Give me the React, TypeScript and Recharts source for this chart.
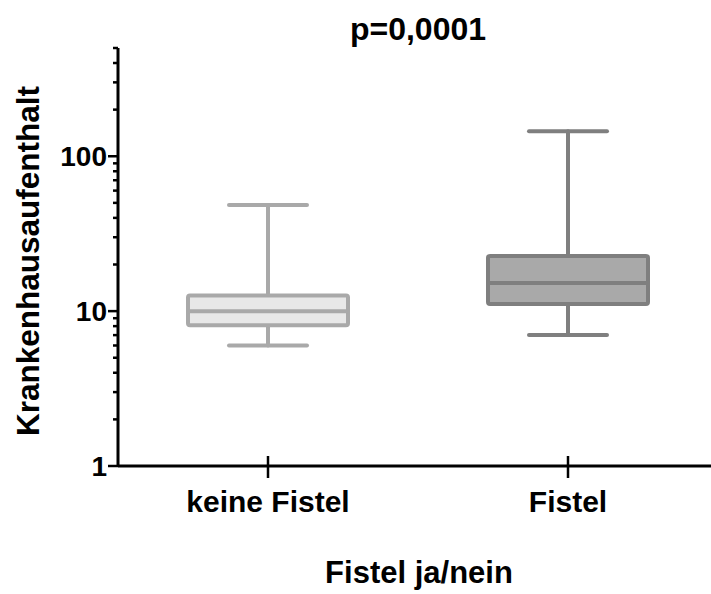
import React from "react";
import { ComposedChart, Bar, XAxis, YAxis } from "recharts";

const categories = ["keine Fistel", "Fistel"];
const minValues = [6.0, 7.0];
const q1Values = [8.1, 11.1];
const medianValues = [10.0, 15.2];
const q3Values = [12.6, 22.7];
const maxValues = [48.5, 145];
const strokeColors = ["#a9a9a9", "#7f7f7f"];
const fillColors = ["#e8e8e8", "#a9a9a9"];

const yTicks = [1, 2, 3, 4, 5, 6, 7, 8, 9, 10, 20, 30, 40, 50, 60, 70, 80, 90, 100, 200, 300, 400, 500];
const majorTicks = [1, 10, 100];

const data = categories.map((name, i) => ({
  name,
  whisker: [minValues[i], maxValues[i]],
  box: [q1Values[i], q3Values[i]],
  med: [q1Values[i], medianValues[i]],
  idx: i,
}));

const FONT = "'Liberation Sans', Arial, sans-serif";

const WhiskerShape = (props: any) => {
  const { x, y, width, height, payload } = props;
  const cx = x + width / 2;
  const c = strokeColors[payload.idx];
  const cap = 78;
  return (
    <g stroke={c} strokeWidth={4} strokeLinecap="round">
      <line x1={cx} x2={cx} y1={y} y2={y + height} />
      <line x1={cx - cap / 2} x2={cx + cap / 2} y1={y} y2={y} />
      <line x1={cx - cap / 2} x2={cx + cap / 2} y1={y + height} y2={y + height} />
    </g>
  );
};

const BoxShape = (props: any) => {
  const { x, y, width, height, payload } = props;
  return (
    <rect
      x={x}
      y={y}
      width={width}
      height={height}
      rx={2}
      fill={fillColors[payload.idx]}
      stroke={strokeColors[payload.idx]}
      strokeWidth={4}
    />
  );
};

const MedianShape = (props: any) => {
  const { x, y, width, payload } = props;
  return (
    <line x1={x} x2={x + width} y1={y} y2={y} stroke={strokeColors[payload.idx]} strokeWidth={4} />
  );
};

const YTick = (props: any) => {
  const { x, y, payload } = props;
  const major = majorTicks.includes(payload.value);
  return (
    <g>
      <line x1={x - (major ? 10 : 5)} x2={x} y1={y} y2={y} stroke="#000" strokeWidth={2.5} />
      {major && (
        <text
          x={x - 11}
          y={y}
          dy={10}
          textAnchor="end"
          fontFamily={FONT}
          fontWeight="bold"
          fontSize={28}
          fill="#000"
        >
          {payload.value}
        </text>
      )}
    </g>
  );
};

const XTick = (props: any) => {
  const { x, y, payload } = props;
  return (
    <g>
      <line x1={x} x2={x} y1={y - 10} y2={y + 12} stroke="#000" strokeWidth={2.5} />
      <text
        x={x}
        y={y + 46}
        textAnchor="middle"
        fontFamily={FONT}
        fontWeight="bold"
        fontSize={30}
        fill="#000"
      >
        {payload.value}
      </text>
    </g>
  );
};

export default function App() {
  return (
    <div style={{ position: "absolute", left: 0, top: 0, width: 711, height: 594, overflow: "hidden", background: "#fff" }}>
      <ComposedChart width={718} height={594} data={data} margin={{ top: 48, right: 0, bottom: 0, left: 0 }}>
        <XAxis
          dataKey="name"
          height={128}
          tickSize={0}
          tickMargin={0}
          tick={<XTick />}
          axisLine={{ stroke: "#000", strokeWidth: 3 }}
          tickLine={false}
          interval={0}
        />
        <XAxis xAxisId="box" dataKey="name" hide />
        <XAxis xAxisId="med" dataKey="name" hide />
        <YAxis
          scale="log"
          domain={[1, 500]}
          allowDataOverflow
          ticks={yTicks}
          interval={0}
          width={118}
          tickSize={0}
          tickMargin={0}
          tick={<YTick />}
          tickLine={false}
          axisLine={{ stroke: "#000", strokeWidth: 3 }}
        />
        <Bar dataKey="whisker" barSize={160} shape={<WhiskerShape />} isAnimationActive={false} />
        <Bar xAxisId="box" dataKey="box" barSize={160} shape={<BoxShape />} isAnimationActive={false} />
        <Bar xAxisId="med" dataKey="med" barSize={160} shape={<MedianShape />} isAnimationActive={false} />
        <text x={418} y={40} textAnchor="middle" fontFamily={FONT} fontWeight="bold" fontSize={32} fill="#000">
          p=0,0001
        </text>
        <text
          x={0}
          y={0}
          transform="translate(39, 261) rotate(-90)"
          textAnchor="middle"
          fontFamily={FONT}
          fontWeight="bold"
          fontSize={31.5}
          fill="#000"
        >
          Krankenhausaufenthalt
        </text>
        <text x={419} y={583} textAnchor="middle" fontFamily={FONT} fontWeight="bold" fontSize={31} fill="#000">
          Fistel ja/nein
        </text>
      </ComposedChart>
    </div>
  );
}
